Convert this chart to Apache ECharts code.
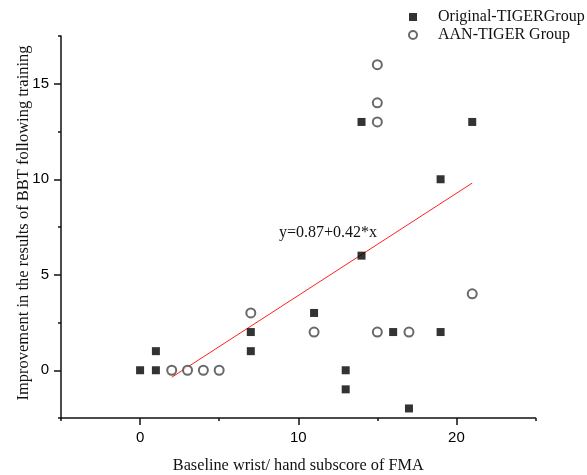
<!DOCTYPE html>
<html>
<head>
<meta charset="utf-8">
<script src="https://cdn.jsdelivr.net/npm/echarts@6/dist/echarts.min.js"></script>
<style>
html, body { margin: 0; padding: 0; background: #fff; }
#main { width: 587px; height: 475px; }
</style>
</head>
<body>
<div id="main"></div>
<script>
// data
var originalGroup = [[0,0],[1,0],[1,1],[7,2],[7,1],[11,3],[13,0],[13,-1],[14,6],[14,13],[16,2],[17,-2],[19,10],[19,2],[21,13]];
var aanGroup = [[2,0],[3,0],[4,0],[5,0],[7,3],[11,2],[15,2],[15,13],[15,14],[15,16],[17,2],[21,4]];
var fitLine = [[2,-0.37],[21,9.8]];
var fitText = 'y=0.87+0.42*x';

var xMajorTicks = [0,10,20];
var xMinorTicks = [-5,5,15,25];
var yMajorTicks = [0,5,10,15];
var yMinorTicks = [-2.5,2.5,7.5,12.5,17.5];

var serif = 'Liberation Serif';
var sans = 'Liberation Sans';

var chart = echarts.init(document.getElementById('main'));

var axisLineStyle = { color: '#111', width: 1.5 };

var option = {
	animation: false,
	grid: { left: 61, right: 51.5, top: 36, bottom: 57, containLabel: false, outerBoundsMode: 'none' },
	legend: {
		orient: 'vertical',
		left: 403,
		top: 4,
		itemWidth: 8,
		itemHeight: 8,
		itemGap: 2,
		data: ['Original-TIGERGroup', 'AAN-TIGER Group'],
		textStyle: { fontFamily: serif, fontSize: 16, color: '#111', lineHeight: 16, padding: [0,0,0,16] }
	},
	xAxis: [{
		type: 'value', min: -5, max: 25,
		axisLine: { onZero: false, lineStyle: axisLineStyle },
		axisTick: { customValues: xMinorTicks, length: 3, lineStyle: axisLineStyle },
		axisLabel: { show: false },
		splitLine: { show: false }
	}, {
		type: 'value', min: -5, max: 25, position: 'bottom',
		axisLine: { show: false, onZero: false },
		axisTick: { customValues: xMajorTicks, length: 7, lineStyle: axisLineStyle },
		axisLabel: { customValues: xMajorTicks, margin: 12, fontFamily: sans, fontSize: 15, color: '#000' },
		splitLine: { show: false },
		name: 'Baseline wrist/ hand subscore of FMA',
		nameLocation: 'middle',
		nameMoveOverlap: false,
		nameGap: 40,
		nameTextStyle: { fontFamily: serif, fontSize: 16.3, color: '#111' }
	}],
	yAxis: [{
		type: 'value', min: -2.5, max: 17.5,
		axisLine: { onZero: false, lineStyle: axisLineStyle },
		axisTick: { customValues: yMinorTicks, length: 3, lineStyle: axisLineStyle },
		axisLabel: { show: false },
		splitLine: { show: false }
	}, {
		type: 'value', min: -2.5, max: 17.5, position: 'left',
		axisLine: { show: false, onZero: false },
		axisTick: { customValues: yMajorTicks, length: 7, lineStyle: axisLineStyle },
		axisLabel: { customValues: yMajorTicks, margin: 12, fontFamily: sans, fontSize: 15, color: '#000' },
		splitLine: { show: false },
		name: 'Improvement in the results of BBT following training',
		nameLocation: 'middle',
		nameMoveOverlap: false,
		nameGap: 29,
		nameTextStyle: { fontFamily: serif, fontSize: 16.5, color: '#111', padding: [0,0,0,8] }
	}],
	graphic: [{
		type: 'text',
		left: 279,
		top: 225,
		style: { text: fitText, font: '16px "Liberation Serif"', fill: '#111' }
	}],
	series: [{
		name: 'fit',
		type: 'line',
		data: fitLine,
		symbol: 'none',
		lineStyle: { color: '#ff2020', width: 1 },
		z: 1
	}, {
		name: 'Original-TIGERGroup',
		type: 'scatter',
		data: originalGroup,
		symbol: 'rect',
		symbolSize: 8,
		itemStyle: { color: '#000' },
		z: 3
	}, {
		name: 'AAN-TIGER Group',
		type: 'scatter',
		data: aanGroup,
		symbol: 'emptyCircle',
		symbolSize: 9,
		itemStyle: { color: '#444', borderWidth: 0.8 },
		z: 3
	}]
};

chart.setOption(option);
</script>
</body>
</html>
